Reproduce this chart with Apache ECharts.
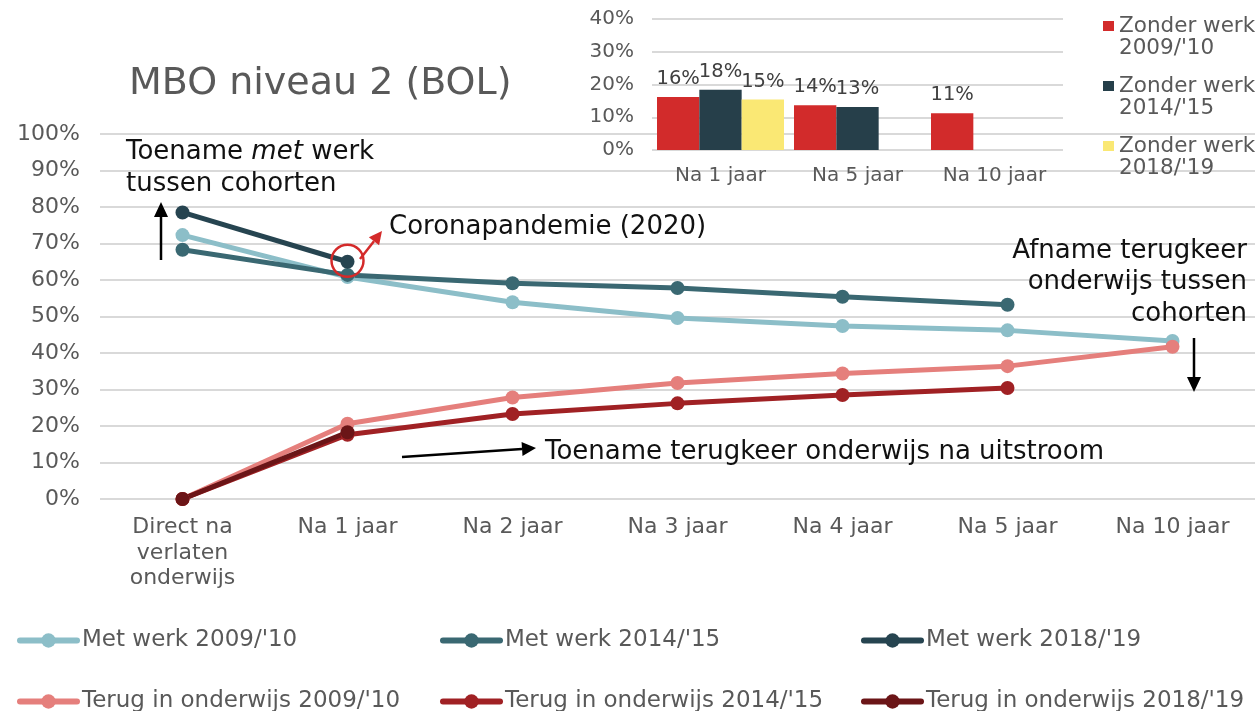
<!DOCTYPE html>
<html>
<head>
<meta charset="utf-8">
<script src="https://cdn.jsdelivr.net/npm/echarts@6/dist/echarts.min.js"></script>
<style>
  html, body { margin: 0; padding: 0; background: #fff; }
  #chart { width: 1259px; height: 711px; }
</style>
</head>
<body>
<div id="chart"></div>
<script>
// // DATA
const periods = ["Direct na\nverlaten\nonderwijs", "Na 1 jaar", "Na 2 jaar", "Na 3 jaar", "Na 4 jaar", "Na 5 jaar", "Na 10 jaar"];
const met_werk_2009 = [72.3, 60.8, 53.9, 49.6, 47.4, 46.2, 43.3];
const met_werk_2014 = [68.3, 61.4, 59.1, 57.8, 55.4, 53.2, null];
const met_werk_2018 = [78.5, 65.0, null, null, null, null, null];
const terug_2009 = [0, 20.6, 27.8, 31.8, 34.4, 36.4, 41.7];
const terug_2014 = [0, 17.6, 23.3, 26.2, 28.5, 30.4, null];
const terug_2018 = [0, 18.3, null, null, null, null, null];

// inset: zonder werk
const inset_periods = ["Na 1 jaar", "Na 5 jaar", "Na 10 jaar"];
const zonder_2009 = [16.2, 13.7, 11.2];
const zonder_2014 = [18.4, 13.1, null];
const zonder_2018 = [15.4, null, null];

const font = "DejaVu Sans";
const gray = "#595959";
const grid_line = { show: true, lineStyle: { color: "#D9D9D9", width: 2 } };

// // HELPERS
function lineSeries(name, data, color) {
  return {
    name, data, type: "line", xAxisIndex: 0, yAxisIndex: 0,
    symbol: "circle", symbolSize: 14,
    lineStyle: { width: 5, color }, itemStyle: { color },
    emphasis: { disabled: true }
  };
}

function barSeries(name, data, color) {
  return {
    name, data, type: "bar", xAxisIndex: 1, yAxisIndex: 1,
    barGap: "0%", barCategoryGap: "7.3%",
    itemStyle: { color },
    label: {
      show: true, position: "top", distance: 8,
      formatter: (p) => Math.round(p.value) + "%",
      fontFamily: font, fontSize: 19.5, color: "#404040"
    },
    emphasis: { disabled: true }
  };
}

// one legend per entry, so the 2 x 3 layout is fixed
function bottomLegend(left, top, name) {
  return {
    left, top, padding: 0, selectedMode: false,
    itemWidth: 57, itemHeight: 18,
    lineStyle: { width: 6, cap: "round" },
    data: [name],
    textStyle: { fontFamily: font, fontSize: 23, color: gray }
  };
}

// arrow = shaft + triangle head
function arrow(x1, y1, x2, y2, color, head_len, head_half) {
  const dx = x2 - x1, dy = y2 - y1, len = Math.hypot(dx, dy);
  const ux = dx / len, uy = dy / len;
  const bx = x2 - ux * head_len, by = y2 - uy * head_len;
  return [
    { type: "line", shape: { x1, y1, x2: bx, y2: by }, style: { stroke: color, lineWidth: 2.5 }, silent: true },
    { type: "polygon", shape: { points: [[x2, y2], [bx - uy * head_half, by + ux * head_half], [bx + uy * head_half, by - ux * head_half]] }, style: { fill: color }, silent: true }
  ];
}

function note(text, x, y, extra) {
  return {
    type: "text", x, y, silent: true,
    style: Object.assign({ text, fontFamily: font, fontSize: 26, fill: "#111", verticalAlign: "middle" }, extra || {})
  };
}

// // CHART
const chart = echarts.init(document.getElementById("chart"), null, { renderer: "canvas" });

chart.setOption({
  animation: false,
  title: {
    text: "MBO niveau 2 (BOL)", left: 129, top: 65, padding: 0,
    textStyle: { fontFamily: font, fontSize: 38, fontWeight: "normal", color: gray }
  },
  grid: [
    { left: 100, right: 4, top: 134, bottom: 212 },
    { left: 652, top: 19, width: 411, height: 131 }
  ],
  xAxis: [
    {
      type: "category", data: periods, gridIndex: 0,
      axisLine: { show: false }, axisTick: { show: false },
      axisLabel: { margin: 16, fontFamily: font, fontSize: 22, lineHeight: 25.5, color: gray, interval: 0 }
    },
    {
      type: "category", data: inset_periods, gridIndex: 1,
      axisLine: { show: false }, axisTick: { show: false },
      axisLabel: { margin: 16, fontFamily: font, fontSize: 20, color: gray }
    }
  ],
  yAxis: [
    {
      type: "value", gridIndex: 0, min: 0, max: 100, interval: 10,
      splitLine: grid_line,
      axisLabel: { formatter: "{value}%", margin: 20, fontFamily: font, fontSize: 22, color: gray }
    },
    {
      type: "value", gridIndex: 1, min: 0, max: 40, interval: 10,
      splitLine: grid_line,
      axisLabel: { formatter: "{value}%", margin: 18, fontFamily: font, fontSize: 20, color: gray }
    }
  ],
  legend: [
    bottomLegend(17, 629, "Met werk 2009/'10"),
    bottomLegend(440, 629, "Met werk 2014/'15"),
    bottomLegend(861, 629, "Met werk 2018/'19"),
    bottomLegend(17, 690, "Terug in onderwijs 2009/'10"),
    bottomLegend(440, 690, "Terug in onderwijs 2014/'15"),
    bottomLegend(861, 690, "Terug in onderwijs 2018/'19"),
    {
      left: 1103, top: 15, orient: "vertical", padding: 0, selectedMode: false,
      // square at the first text line: extra empty subpaths stretch the icon box
      icon: "path://M0,6H11V16H0Z M0,0H11 M0,44H11",
      itemWidth: 11, itemHeight: 44, itemGap: 16,
      data: ["Zonder werk\n2009/'10", "Zonder werk\n2014/'15", "Zonder werk\n2018/'19"],
      textStyle: { fontFamily: font, fontSize: 21.5, lineHeight: 22, color: gray }
    }
  ],
  series: [
    lineSeries("Met werk 2009/'10", met_werk_2009, "#8CBEC8"),
    lineSeries("Met werk 2014/'15", met_werk_2014, "#3A6872"),
    lineSeries("Met werk 2018/'19", met_werk_2018, "#264450"),
    lineSeries("Terug in onderwijs 2009/'10", terug_2009, "#E57F7C"),
    lineSeries("Terug in onderwijs 2014/'15", terug_2014, "#A02124"),
    lineSeries("Terug in onderwijs 2018/'19", terug_2018, "#6B1517"),
    barSeries("Zonder werk\n2009/'10", zonder_2009, "#D22B2B"),
    barSeries("Zonder werk\n2014/'15", zonder_2014, "#263F4A"),
    barSeries("Zonder werk\n2018/'19", zonder_2018, "#FAE874")
  ]
});

// // ANNOTATIONS
const corona = chart.convertToPixel({ gridIndex: 0 }, [1, met_werk_2018[1]]);

chart.setOption({
  graphic: [
    { type: "circle", shape: { cx: corona[0], cy: corona[1] - 1, r: 16 }, style: { fill: "none", stroke: "#D42A2A", lineWidth: 2.5 }, silent: true, z: 10 },
    ...arrow(360, 259, 382, 231, "#D42A2A", 13, 6.5),
    ...arrow(161, 260, 161, 202, "#000", 15, 7),
    ...arrow(1194, 338, 1194, 392, "#000", 15, 7),
    ...arrow(402, 457, 536, 448, "#000", 14, 7),
    {
      type: "text", x: 126, y: 136, silent: true,
      style: {
        text: "{n|Toename }{i|met}{n| werk}\n{n|tussen cohorten}",
        fontFamily: font, fontSize: 26, fill: "#111", lineHeight: 32,
        rich: {
          n: { fontFamily: font, fontSize: 26, lineHeight: 32, fill: "#111" },
          i: { fontFamily: font, fontSize: 26, lineHeight: 32, fill: "#111", fontStyle: "italic" }
        }
      }
    },
    note("Coronapandemie (2020)", 389, 227),
    note("Afname terugkeer\nonderwijs tussen\ncohorten", 1247, 235, { align: "right", verticalAlign: "top", lineHeight: 31.7 }),
    note("Toename terugkeer onderwijs na uitstroom", 545, 452)
  ]
});

window.addEventListener("resize", () => chart.resize());
</script>
</body>
</html>
